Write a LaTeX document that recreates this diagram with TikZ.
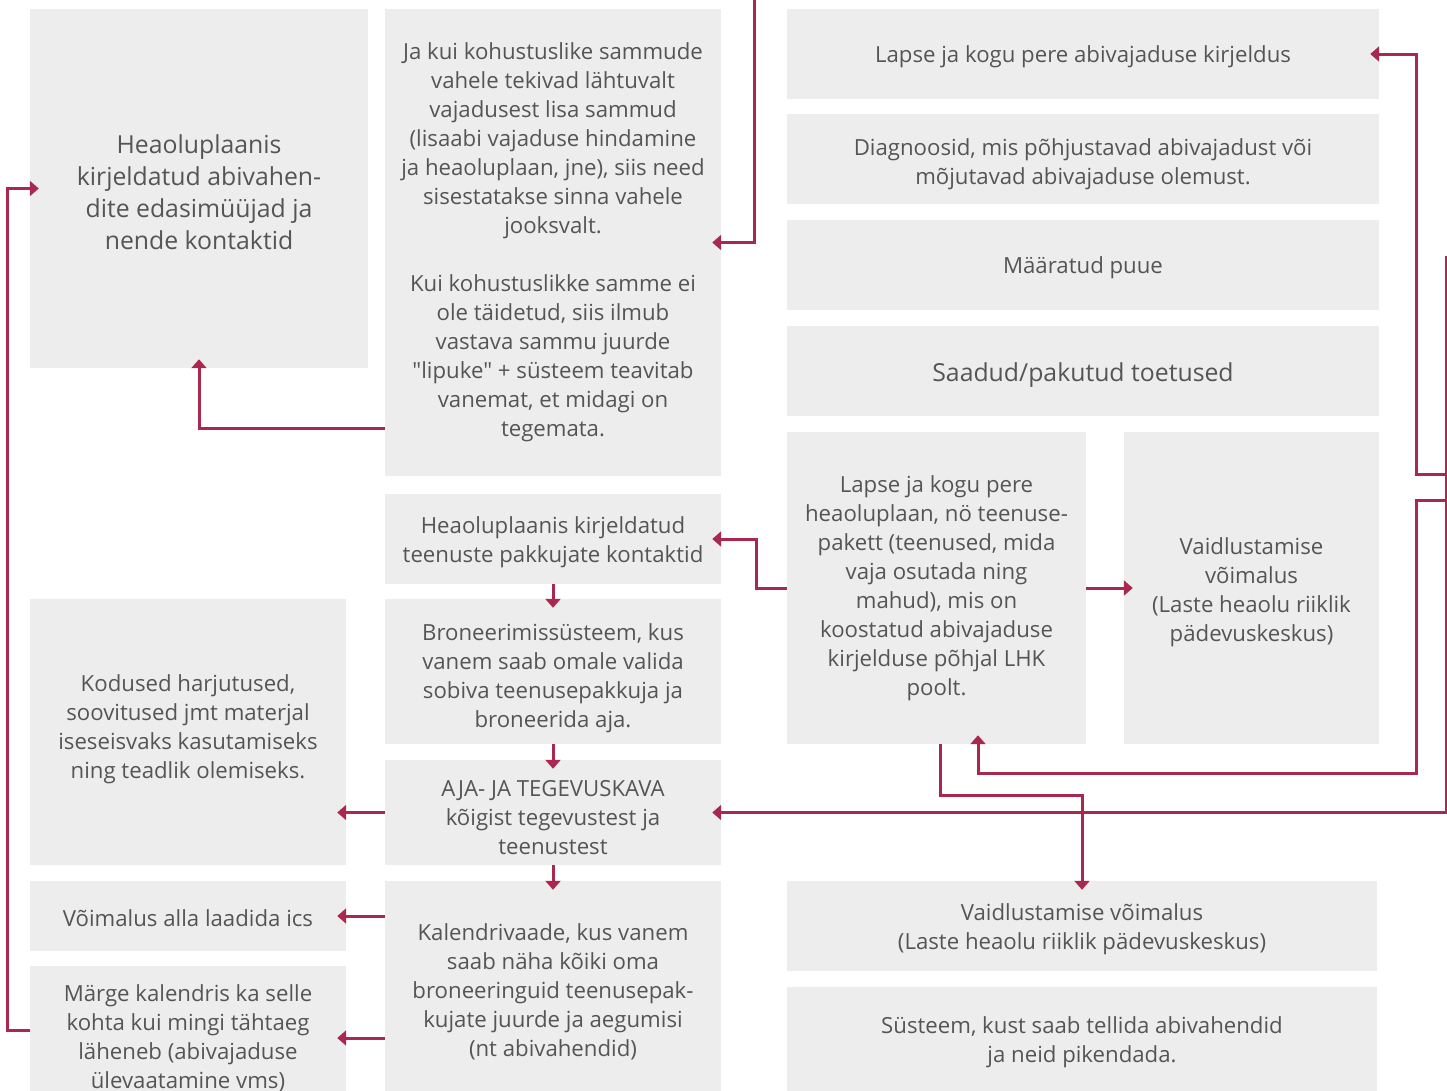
\documentclass[tikz,border=0pt]{standalone}
\usepackage{fontspec}
\setmainfont{Open Sans}[Ligatures=TeXOff]
\usetikzlibrary{arrows.meta, positioning}
\definecolor{boxgray}{HTML}{EDEDED}
\definecolor{txtgray}{HTML}{555555}
\definecolor{linkred}{HTML}{A8284F}

\tikzset{
  droprule/.code={\def\dropstrut{#1}},
  textdrop/.style={droprule={\rule{0pt}{#1}}},
  infobox/.style={rectangle, fill=boxgray, text=txtgray, align=center, inner sep=0pt,
    font=\fontsize{22.2}{29}\selectfont, textdrop=22pt, execute at begin node={\dropstrut}},
  bigtext/.style={font=\fontsize{24.8}{32}\selectfont},
  link/.style={draw=linkred, line width=3pt, -{Triangle[length=9pt,width=15pt]}, shorten >=-9pt,
    preaction={draw=white, -{Triangle[length=13pt,width=21pt]}, shorten >=-11pt}},
}

\begin{document}
\begin{tikzpicture}[x=1pt, y=-1pt]
\useasboundingbox (0,0) rectangle (1447,1090);

% left column
\node[infobox, bigtext, textdrop=123pt, minimum width=338pt, minimum height=359pt] (abivahend) at (199,188.5) {Heaoluplaanis\\kirjeldatud abivahen-\\dite edasimüüjad ja\\nende kontaktid};
\node[infobox, droprule={\rule[-11pt]{0pt}{11pt}}, minimum width=316pt, minimum height=266pt] (kodused) at (188,732) {Kodused harjutused,\\soovitused jmt materjal\\iseseisvaks kasutamiseks\\ning teadlik olemiseks.};
\node[infobox, minimum width=316pt, minimum height=70pt] (ics) at (188,916) {Võimalus alla laadida ics};
\node[infobox, minimum width=316pt, minimum height=144pt] (marge) at (188,1038) {Märge kalendris ka selle\\kohta kui mingi tähtaeg\\läheneb (abivajaduse\\ülevaatamine vms)};

% middle column
\node[infobox, minimum width=336pt, minimum height=467pt] (sammud) at (553,242.5) {Ja kui kohustuslike sammude\\vahele tekivad lähtuvalt\\vajadusest lisa sammud\\(lisaabi vajaduse hindamine\\ja heaoluplaan, jne), siis need\\sisestatakse sinna vahele\\jooksvalt.\\[29pt]Kui kohustuslikke samme ei\\ole täidetud, siis ilmub\\vastava sammu juurde\\"lipuke" + süsteem teavitab\\vanemat, et midagi on\\tegemata.};
\node[infobox, textdrop=53pt, minimum width=336pt, minimum height=90pt] (pakkujad) at (553,539) {Heaoluplaanis kirjeldatud\\teenuste pakkujate kontaktid};
\node[infobox, textdrop=117pt, minimum width=336pt, minimum height=145pt] (broneerimine) at (553,671.5) {Broneerimissüsteem, kus\\vanem saab omale valida\\sobiva teenusepakkuja ja\\broneerida aja.};
\node[infobox, textdrop=84pt, minimum width=336pt, minimum height=105pt] (ajakava) at (553,812.5) {AJA- JA TEGEVUSKAVA\\kõigist tegevustest ja\\teenustest};
\node[infobox, textdrop=137pt, minimum width=336pt, minimum height=218pt] (kalender) at (553,990) {Kalendrivaade, kus vanem\\saab näha kõiki oma\\broneeringuid teenusepak-\\kujate juurde ja aegumisi\\(nt abivahendid)};

% right column
\node[infobox, minimum width=592pt, minimum height=90pt] (kirjeldus) at (1083,54) {Lapse ja kogu pere abivajaduse kirjeldus};
\node[infobox, textdrop=56pt, minimum width=592pt, minimum height=90pt] (diagnoosid) at (1083,159) {Diagnoosid, mis põhjustavad abivajadust või\\mõjutavad abivajaduse olemust.};
\node[infobox, minimum width=592pt, minimum height=90pt] (puue) at (1083,265) {Määratud puue};
\node[infobox, bigtext, textdrop=26pt, minimum width=592pt, minimum height=90pt] (toetused) at (1083,371) {Saadud/pakutud toetused};
\node[infobox, minimum width=299pt, minimum height=312pt] (plaan) at (936.5,588) {Lapse ja kogu pere\\heaoluplaan, nö teenuse-\\pakett (teenused, mida\\vaja osutada ning\\mahud), mis on\\koostatud abivajaduse\\kirjelduse põhjal LHK\\poolt.};
\node[infobox, textdrop=112pt, minimum width=255pt, minimum height=312pt] (vaidlus) at (1251.5,588) {Vaidlustamise\\võimalus\\(Laste heaolu riiklik\\pädevuskeskus)};
\node[infobox, textdrop=52pt, minimum width=590pt, minimum height=90pt] (vaidlus2) at (1082,926) {Vaidlustamise võimalus\\(Laste heaolu riiklik pädevuskeskus)};
\node[infobox, textdrop=51pt, minimum width=590pt, minimum height=106pt] (tellimine) at (1082,1040) {Süsteem, kust saab tellida abivahendid\\ja neid pikendada.};

% free ends
\coordinate (sisse) at (754,0);
\coordinate (parem) at (1446,256);
\coordinate (haru1) at (1446,474);
\coordinate (haru2) at (1446,500);

% connectors
\draw[link] (sisse) |- (sammud.east);
\draw[link] (sammud.west |- 0,428) -| (abivahend.south);
\draw[link] (plaan.west) -- ++(-30,0) |- (pakkujad.east);
\draw[link] (plaan.east) -- (vaidlus.west);
\draw[link] ([xshift=3.5pt]plaan.south) -- ++(0,51) -| (vaidlus2.north);
\draw[link] (pakkujad.south) -- (broneerimine.north);
\draw[link] (broneerimine.south) -- (ajakava.north);
\draw[link] (ajakava.south) -- (kalender.north);
\draw[link] (ajakava.west) -- (ajakava.west -| kodused.east);
\draw[link] (ics.east -| kalender.west) -- (ics.east);
\draw[link] (marge.east -| kalender.west) -- (marge.east);
\draw[link] ([yshift=8pt]marge.west) -- ++(-22,0) |- (abivahend.west);
\draw[link] (parem) |- (ajakava.east);
\draw[link] (haru1) -- ++(-30,0) |- (kirjeldus.east);
\draw[link] (haru2) -- ++(-30,0) |- ([xshift=41.5pt]plaan.south |- 0,773) -- ([xshift=41.5pt]plaan.south);
\end{tikzpicture}
\end{document}
